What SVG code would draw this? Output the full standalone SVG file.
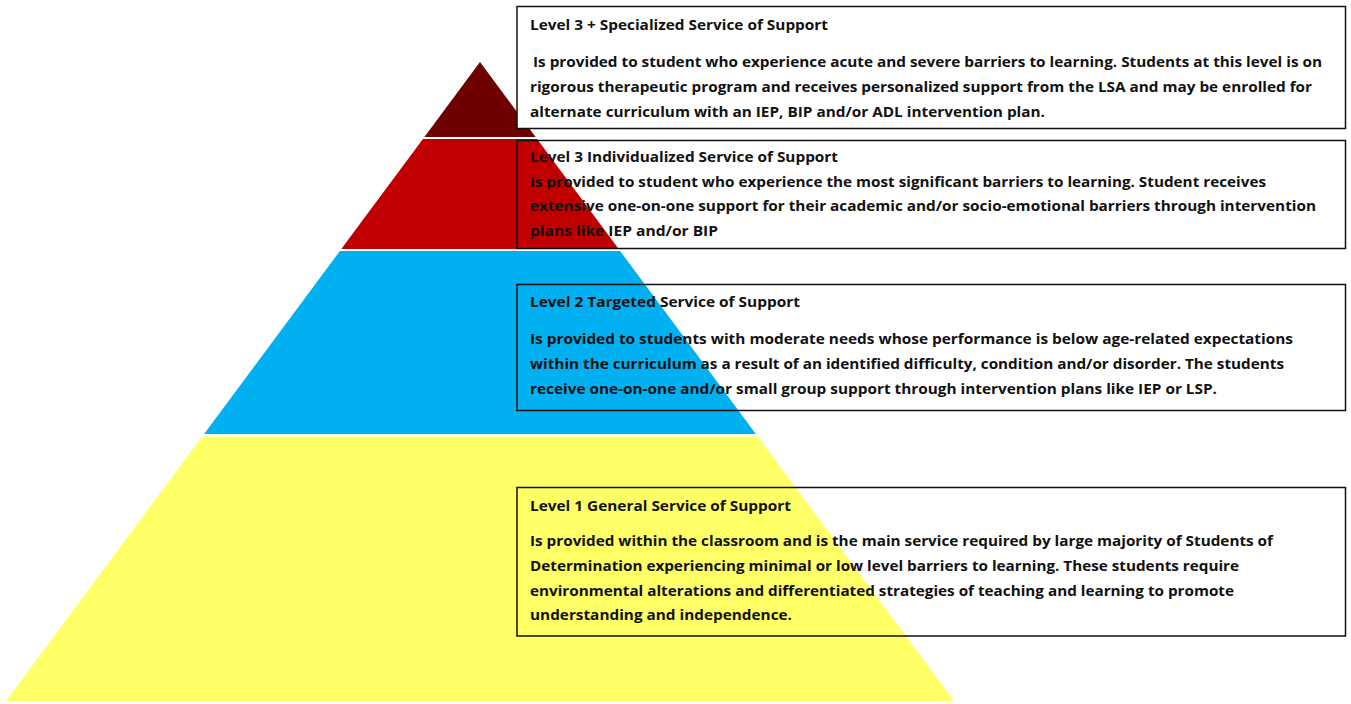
<svg xmlns="http://www.w3.org/2000/svg" width="1351" height="704" viewBox="0 0 1351 704">
<style>
.box{stroke:#111;stroke-width:1.5;}
.t{font-family:"Open Sans","Noto Sans","Liberation Sans",sans-serif;font-weight:700;font-size:14px;fill:#111;}
</style>
<rect width="1351" height="704" fill="#fff"/>
<g id="pyramid">
<polygon id="band-l3plus" points="480,62 535.6,137 424.4,137" fill="#6E0000"/>
<polygon id="band-l3" points="422.9,139 537.1,139 618.7,249 341.3,249" fill="#C00000"/>
<polygon id="band-l2" points="339.9,251 620.1,251 755.9,434 204.1,434" fill="#00B0F0"/>
<polygon id="band-l1" points="202.2,436.5 757.8,436.5 954,701 6,701" fill="#FFFF66"/>
</g>
<g id="node-l3plus">
<rect class="box" x="517" y="6.5" width="828.5" height="122" fill="#fff"/>
<text class="t" x="530" y="30" textLength="298" lengthAdjust="spacingAndGlyphs">Level 3 + Specialized Service of Support</text>
<text class="t" x="533" y="67" textLength="789" lengthAdjust="spacingAndGlyphs">Is provided to student who experience acute and severe barriers to learning. Students at this level is on</text>
<text class="t" x="530" y="92" textLength="782" lengthAdjust="spacingAndGlyphs">rigorous therapeutic program and receives personalized support from the LSA and may be enrolled for</text>
<text class="t" x="530" y="117" textLength="515" lengthAdjust="spacingAndGlyphs">alternate curriculum with an IEP, BIP and/or ADL intervention plan.</text>
</g>
<g id="node-l3">
<rect class="box" x="517" y="140.5" width="828.5" height="108" fill="none"/>
<text class="t" x="530" y="162" textLength="308" lengthAdjust="spacingAndGlyphs">Level 3 Individualized Service of Support</text>
<text class="t" x="530" y="187" textLength="736" lengthAdjust="spacingAndGlyphs">Is provided to student who experience the most significant barriers to learning. Student receives</text>
<text class="t" x="530" y="211" textLength="786" lengthAdjust="spacingAndGlyphs">extensive one-on-one support for their academic and/or socio-emotional barriers through intervention</text>
<text class="t" x="530" y="236" textLength="188" lengthAdjust="spacingAndGlyphs">plans like IEP and/or BIP</text>
</g>
<g id="node-l2">
<rect class="box" x="517" y="284.5" width="828.5" height="126" fill="none"/>
<text class="t" x="530" y="307" textLength="270" lengthAdjust="spacingAndGlyphs">Level 2 Targeted Service of Support</text>
<text class="t" x="530" y="344" textLength="763" lengthAdjust="spacingAndGlyphs">Is provided to students with moderate needs whose performance is below age-related expectations</text>
<text class="t" x="530" y="369" textLength="754" lengthAdjust="spacingAndGlyphs">within the curriculum as a result of an identified difficulty, condition and/or disorder. The students</text>
<text class="t" x="530" y="394" textLength="687" lengthAdjust="spacingAndGlyphs">receive one-on-one and/or small group support through intervention plans like IEP or LSP.</text>
</g>
<g id="node-l1">
<rect class="box" x="517" y="487.5" width="828.5" height="148.5" fill="none"/>
<text class="t" x="530" y="511" textLength="261" lengthAdjust="spacingAndGlyphs">Level 1 General Service of Support</text>
<text class="t" x="530" y="546" textLength="743" lengthAdjust="spacingAndGlyphs">Is provided within the classroom and is the main service required by large majority of Students of</text>
<text class="t" x="530" y="571" textLength="709" lengthAdjust="spacingAndGlyphs">Determination experiencing minimal or low level barriers to learning. These students require</text>
<text class="t" x="530" y="596" textLength="704" lengthAdjust="spacingAndGlyphs">environmental alterations and differentiated strategies of teaching and learning to promote</text>
<text class="t" x="530" y="620" textLength="262" lengthAdjust="spacingAndGlyphs">understanding and independence.</text>
</g>
<g id="connectors"/>
</svg>
